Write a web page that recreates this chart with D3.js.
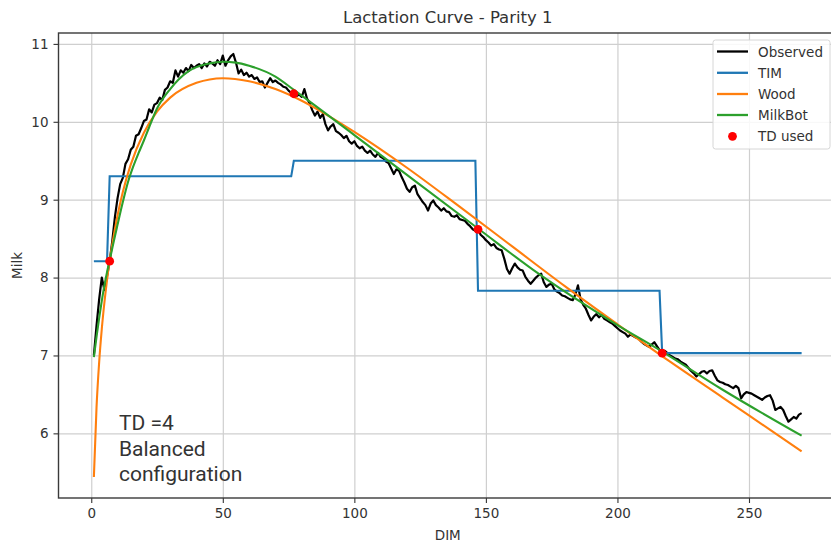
<!DOCTYPE html>
<html>
<head>
<meta charset="utf-8">
<script src="https://cdn.jsdelivr.net/npm/d3@7"></script>
<style>
  html, body { margin: 0; padding: 0; background: #fff; }
  svg { display: block; }
</style>
</head>
<body>
<svg id="chart" width="831" height="543"></svg>
<script>
// ---------------- DATA ----------------
const title = "Lactation Curve - Parity 1";
const xLabel = "DIM";
const yLabel = "Milk";
const xTicks = [0, 50, 100, 150, 200, 250];
const yTicks = [6, 7, 8, 9, 10, 11];
const legendLabels = ["Observed", "TIM", "Wood", "MilkBot", "TD used"];
const noteLines = ["TD =4", "Balanced", "configuration"];

// Observed daily milk, days 1..270
const obsFirstDay = 1;
const observed = [
  7.00, 7.38, 7.72, 8.00, 7.84, 8.02, 8.21, 8.47, 8.78, 9.02,
  9.20, 9.28, 9.46, 9.52, 9.64, 9.68, 9.82, 9.84, 9.92, 10.01,
  10.03, 10.16, 10.12, 10.22, 10.24, 10.31, 10.28, 10.41, 10.44, 10.52,
  10.50, 10.66, 10.58, 10.66, 10.63, 10.69, 10.65, 10.73, 10.69, 10.72,
  10.74, 10.69, 10.75, 10.71, 10.77, 10.75, 10.72, 10.79, 10.74, 10.85,
  10.72, 10.79, 10.84, 10.87, 10.76, 10.62, 10.67, 10.60, 10.63, 10.58,
  10.60, 10.55, 10.57, 10.51, 10.52, 10.44, 10.50, 10.56, 10.51, 10.53,
  10.50, 10.48, 10.45, 10.44, 10.40, 10.37, 10.36, 10.33, 10.35, 10.32,
  10.42, 10.30, 10.24, 10.15, 10.08, 10.13, 10.05, 10.10, 9.97, 9.89,
  9.94, 9.97, 9.88, 9.86, 9.83, 9.79, 9.82, 9.75, 9.72, 9.75,
  9.69, 9.66, 9.68, 9.63, 9.60, 9.63, 9.58, 9.55, 9.60, 9.55,
  9.53, 9.49, 9.47, 9.40, 9.33, 9.39, 9.37, 9.29, 9.22, 9.14,
  9.10, 9.16, 9.18, 9.07, 9.02, 8.97, 8.93, 8.86, 8.95, 8.99,
  8.93, 8.90, 8.86, 8.89, 8.85, 8.84, 8.79, 8.78, 8.80, 8.75,
  8.74, 8.73, 8.69, 8.66, 8.62, 8.60, 8.62, 8.55, 8.52, 8.48,
  8.45, 8.41, 8.43, 8.38, 8.36, 8.35, 8.24, 8.11, 8.05, 8.12,
  8.18, 8.13, 8.10, 8.09, 8.01, 7.96, 7.92, 7.96, 8.00, 8.03,
  8.05, 7.94, 7.88, 7.91, 7.92, 7.85, 7.82, 7.80, 7.77, 7.76,
  7.74, 7.72, 7.71, 7.78, 7.90, 7.72, 7.65, 7.60, 7.52, 7.45,
  7.50, 7.53, 7.49, 7.52, 7.47, 7.45, 7.43, 7.41, 7.38, 7.35,
  7.32, 7.30, 7.28, 7.24, 7.27, 7.25, 7.23, 7.22, 7.18, 7.15,
  7.13, 7.11, 7.14, 7.17, 7.12, 7.07, 7.03, 7.06, 7.03, 7.00,
  6.98, 6.96, 6.95, 6.92, 6.90, 6.88, 6.84, 6.80, 6.77, 6.73,
  6.76, 6.79, 6.80, 6.77, 6.80, 6.81, 6.74, 6.68, 6.66, 6.65,
  6.63, 6.62, 6.60, 6.58, 6.61, 6.58, 6.45, 6.50, 6.53, 6.52,
  6.51, 6.49, 6.47, 6.45, 6.43, 6.46, 6.48, 6.49, 6.42, 6.30,
  6.32, 6.34, 6.30, 6.22, 6.15, 6.18, 6.21, 6.19, 6.24, 6.26
];

// TIM step curve (breakpoints)
const timDays   = [1, 6, 7, 76, 77, 146, 147, 216, 217, 270];
const timValues = [8.21, 8.21, 9.30, 9.30, 9.50, 9.50, 7.83, 7.83, 7.03, 7.03];

// Wood model (sampled days)
const woodDays   = [1, 2, 3, 4, 5, 6, 7, 8, 10, 12, 15, 20, 25, 30, 40, 50, 60, 70, 80, 90, 100, 120, 140, 160, 180, 200, 220, 240, 260, 270];
const woodValues = [5.44, 6.33, 6.91, 7.34, 7.68, 7.97, 8.22, 8.43, 8.80, 9.10, 9.45, 9.86, 10.13, 10.31, 10.50, 10.56, 10.52, 10.42, 10.27, 10.08, 9.87, 9.41, 8.91, 8.40, 7.89, 7.40, 6.92, 6.46, 6.00, 5.77];

// MilkBot model (sampled days)
const milkbotDays   = [1, 2, 3, 4, 5, 6, 7, 8, 10, 12, 14, 16, 18, 20, 22, 25, 30, 37, 45, 50, 55, 60, 70, 77, 100, 147, 170, 200, 217, 240, 270];
const milkbotValues = [6.98, 7.24, 7.48, 7.70, 7.90, 8.07, 8.22, 8.38, 8.68, 8.97, 9.23, 9.43, 9.60, 9.76, 9.93, 10.17, 10.42, 10.65, 10.75, 10.77, 10.76, 10.72, 10.58, 10.41, 9.83, 8.63, 8.05, 7.39, 7.05, 6.56, 5.97];

// Test days used
const tdDays   = [7, 77, 147, 217];
const tdValues = [8.21, 10.36, 8.62, 7.03];

const colors = { observed: "#000000", tim: "#1f77b4", wood: "#ff7f0e", milkbot: "#2ca02c", td: "#ff0000" };

// ---------------- LAYOUT ----------------
const svg = d3.select("#chart");
const W = 831, H = 543;
const plot = { left: 58.5, right: 837, top: 33, bottom: 498 };
const font = "'DejaVu Sans', sans-serif";

const x = d3.scaleLinear().domain([-12.45, 283.45]).range([plot.left, plot.right]);
const y = d3.scaleLinear().domain([5.17, 11.14]).range([plot.bottom, plot.top]);

svg.append("rect").attr("width", W).attr("height", H).attr("fill", "#fff");

svg.append("defs").append("clipPath").attr("id", "clip")
  .append("rect").attr("x", plot.left).attr("y", plot.top)
  .attr("width", plot.right - plot.left).attr("height", plot.bottom - plot.top);

// Grid
const gridX = svg.append("g").attr("transform", `translate(0,${plot.bottom})`)
  .call(d3.axisBottom(x).tickValues(xTicks).tickSize(-(plot.bottom - plot.top)).tickFormat(""));
const gridY = svg.append("g").attr("transform", `translate(${plot.left},0)`)
  .call(d3.axisLeft(y).tickValues(yTicks).tickSize(-(plot.right - plot.left)).tickFormat(""));
[gridX, gridY].forEach(g => {
  g.select(".domain").remove();
  g.selectAll(".tick line").attr("stroke", "#cfcfcf").attr("stroke-width", 1.2);
});

// Lines
const plotG = svg.append("g").attr("clip-path", "url(#clip)");

const obsData = observed.map((v, i) => [obsFirstDay + i, v]);
const timData = timDays.map((d, i) => [d, timValues[i]]);
const woodData = woodDays.map((d, i) => [d, woodValues[i]]);
const mbData = milkbotDays.map((d, i) => [d, milkbotValues[i]]);

const lineLin = d3.line().x(d => x(d[0])).y(d => y(d[1]));
const lineSmooth = d3.line().x(d => x(d[0])).y(d => y(d[1])).curve(d3.curveMonotoneX);

plotG.append("path").datum(obsData).attr("d", lineLin)
  .attr("fill", "none").attr("stroke", colors.observed).attr("stroke-width", 2.2).attr("stroke-linejoin", "round");
plotG.append("path").datum(timData).attr("d", lineLin)
  .attr("fill", "none").attr("stroke", colors.tim).attr("stroke-width", 2.1);
plotG.append("path").datum(woodData).attr("d", lineSmooth)
  .attr("fill", "none").attr("stroke", colors.wood).attr("stroke-width", 2.1);
plotG.append("path").datum(mbData).attr("d", lineSmooth)
  .attr("fill", "none").attr("stroke", colors.milkbot).attr("stroke-width", 2.1);
plotG.selectAll("circle.td").data(tdDays.map((d, i) => [d, tdValues[i]])).enter()
  .append("circle").attr("class", "td")
  .attr("cx", d => x(d[0])).attr("cy", d => y(d[1])).attr("r", 4.4)
  .attr("fill", colors.td);

// Axes
const axX = svg.append("g").attr("transform", `translate(0,${plot.bottom})`)
  .call(d3.axisBottom(x).tickValues(xTicks).tickSize(5).tickPadding(5).tickFormat(d3.format("d")));
const axY = svg.append("g").attr("transform", `translate(${plot.left},0)`)
  .call(d3.axisLeft(y).tickValues(yTicks).tickSize(5).tickPadding(5).tickFormat(d3.format("d")));
[axX, axY].forEach(g => {
  g.select(".domain").remove();
  g.selectAll(".tick line").attr("stroke", "#333").attr("stroke-width", 1.1);
  g.selectAll(".tick text").attr("font-family", font).attr("font-size", 13.5).attr("fill", "#333");
});

// Spines
const spineG = svg.append("g").attr("stroke", "#3a3a3a").attr("stroke-width", 1.4).attr("fill", "none");
spineG.append("rect").attr("x", plot.left).attr("y", plot.top)
  .attr("width", plot.right - plot.left).attr("height", plot.bottom - plot.top);

// Title & labels
svg.append("text").attr("x", (plot.left + plot.right) / 2).attr("y", 23)
  .attr("text-anchor", "middle").attr("font-family", font).attr("font-size", 16.5).attr("fill", "#333")
  .text(title);
svg.append("text").attr("x", (plot.left + plot.right) / 2).attr("y", 540)
  .attr("text-anchor", "middle").attr("font-family", font).attr("font-size", 13.5).attr("fill", "#333")
  .text(xLabel);
svg.append("text").attr("transform", `translate(22,${(plot.top + plot.bottom) / 2}) rotate(-90)`)
  .attr("text-anchor", "middle").attr("font-family", font).attr("font-size", 13.5).attr("fill", "#333")
  .text(yLabel);

// Annotation
const noteBase = [430, 455.5, 480.5];
svg.append("g").selectAll("text").data(noteLines).enter().append("text")
  .attr("x", 119).attr("y", (d, i) => noteBase[i])
  .attr("font-family", "Roboto, sans-serif").attr("font-size", 21).attr("fill", "#333")
  .text(d => d);

// Legend
const lg = svg.append("g");
lg.append("rect").attr("x", 713).attr("y", 40).attr("width", 117).attr("height", 109)
  .attr("rx", 2.5).attr("fill", "#fff").attr("fill-opacity", 0.85)
  .attr("stroke", "#d6d6d6").attr("stroke-width", 1);
const legendColors = [colors.observed, colors.tim, colors.wood, colors.milkbot, colors.td];
const legendY = [51.5, 72.8, 94, 115, 136.3];
legendLabels.forEach((lab, i) => {
  const yy = legendY[i];
  if (i < 4) {
    lg.append("line").attr("x1", 717).attr("x2", 748).attr("y1", yy).attr("y2", yy)
      .attr("stroke", legendColors[i]).attr("stroke-width", 2.3);
  } else {
    lg.append("circle").attr("cx", 732.5).attr("cy", yy).attr("r", 4.4).attr("fill", legendColors[i]);
  }
  lg.append("text").attr("x", 758).attr("y", yy + 5)
    .attr("font-family", font).attr("font-size", 13.5).attr("fill", "#333").text(lab);
});
</script>
</body>
</html>
